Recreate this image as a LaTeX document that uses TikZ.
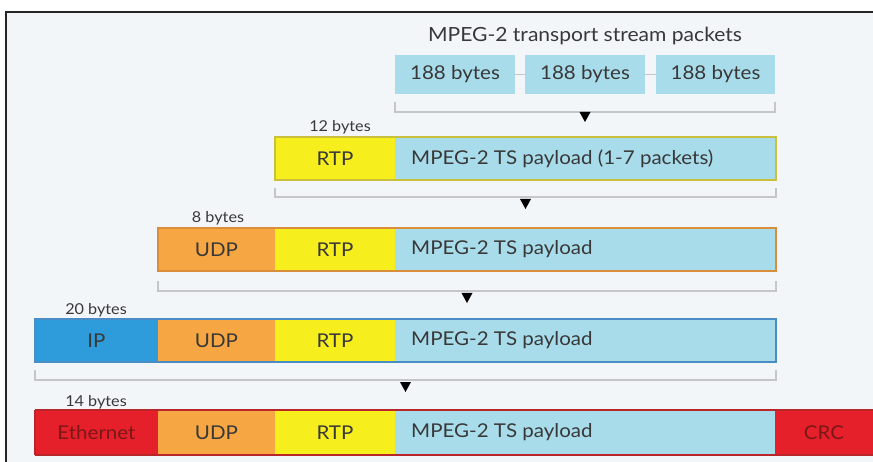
\documentclass[tikz,border=0pt]{standalone}
\usepackage{fontspec}
\setmainfont{Lato}[FakeStretch=1.08]
\usetikzlibrary{calc}
\definecolor{bg}{HTML}{F3F6F9}
\definecolor{pay}{HTML}{A9DCEB}
\definecolor{ylw}{HTML}{F7EE1E}
\definecolor{org}{HTML}{F6A642}
\definecolor{ipb}{HTML}{2E9CDA}
\definecolor{ethr}{HTML}{E5202A}
\definecolor{txt}{HTML}{383838}
\definecolor{dred}{HTML}{7A1818}
\definecolor{brk}{HTML}{C4C6C8}
\definecolor{olv}{HTML}{C9C03C}
\definecolor{obrd}{HTML}{D98E3A}
\definecolor{bbrd}{HTML}{4A8DC4}
\definecolor{rbrd}{HTML}{B8262A}
\begin{document}
\begin{tikzpicture}[x=1pt,y=-1pt,
  seg/.style={rectangle, anchor=north west, inner sep=0pt, outer sep=0pt,
    minimum height=43pt, text=txt, font=\fontsize{19}{19}\selectfont},
  pkt/.style={seg, fill=pay, minimum height=39pt},
  ptext/.style={anchor=west, inner sep=0pt, text=txt, font=\fontsize{19}{19}\selectfont},
  bytes/.style={inner sep=0pt, text=txt, font=\fontsize{15}{15}\selectfont},
  brkline/.style={draw=brk, line width=1.5pt},
  tri/.style={fill=black}
]
\useasboundingbox (0,0) rectangle (873,462);
\fill[white] (0,0) rectangle (873,462);
\fill[bg] (6,12) rectangle (873,462);
\draw[black!85, line width=1.5pt] (873,12) -- (6,12) -- (6,462);

% title and packets
\node[inner sep=0pt, anchor=base, text=txt, font=\fontsize{19.5}{19.5}\selectfont] (title) at (585,42) {MPEG-2 transport stream packets};
\node[pkt, minimum width=120pt] (b1) at (395,55) {188 bytes};
\node[pkt, minimum width=120pt] (b2) at (525,55) {188 bytes};
\node[pkt, minimum width=119pt] (b3) at (656,55) {188 bytes};
\draw[brk, line width=1pt] (b1.east) -- (b2.west);
\draw[brk, line width=1pt] (b2.east) -- (b3.west);
\draw[brkline] ($(b1.south west)+(0,8)$) -- ($(b1.south west)+(0,18)$) -- ($(b3.south east)+(0,18)$) -- ($(b3.south east)+(0,8)$);
\coordinate (t0) at ($(b1.south west)!0.5!(b3.south east)+(0,18)$);
\fill[tri] (t0) +(-5.5,0) -- +(5.5,0) -- +(0,10) -- cycle;

% row 1
\node[bytes] (l1) at (340,127) {12 bytes};
\node[seg, fill=ylw, minimum width=120pt] (r1rtp) at (275,137) {RTP};
\node[seg, fill=pay, minimum width=381pt] (r1pay) at (395,137) {};
\node[ptext] (r1txt) at ($(r1pay.west)+(16,0)$) {MPEG-2 TS payload (1-7 packets)};
\draw[olv, line width=2pt] (r1rtp.north west) rectangle (r1pay.south east);
\draw[brkline] ($(r1rtp.south west)+(0,8)$) -- ($(r1rtp.south west)+(0,17)$) -- ($(r1pay.south east)+(0,17)$) -- ($(r1pay.south east)+(0,8)$);
\coordinate (t1) at ($(r1rtp.south west)!0.5!(r1pay.south east)+(0,19)$);
\fill[tri] (t1) +(-5.5,0) -- +(5.5,0) -- +(0,10) -- cycle;

% row 2
\node[bytes] (l2) at (218,218) {8 bytes};
\node[seg, fill=org, minimum width=117pt] (r2udp) at (158,228) {UDP};
\node[seg, fill=ylw, minimum width=120pt] (r2rtp) at (275,228) {RTP};
\node[seg, fill=pay, minimum width=381pt] (r2pay) at (395,228) {};
\node[ptext] (r2txt) at ($(r2pay.west)+(16,0)$) {MPEG-2 TS payload};
\draw[obrd, line width=2pt] (r2udp.north west) rectangle (r2pay.south east);
\draw[brkline] ($(r2udp.south west)+(0,10)$) -- ($(r2udp.south west)+(0,20)$) -- ($(r2pay.south east)+(0,20)$) -- ($(r2pay.south east)+(0,10)$);
\coordinate (t2) at ($(r2udp.south west)!0.5!(r2pay.south east)+(0,22)$);
\fill[tri] (t2) +(-5.5,0) -- +(5.5,0) -- +(0,10) -- cycle;

% row 3
\node[bytes] (l3) at (96,310) {20 bytes};
\node[seg, fill=ipb, minimum width=123pt] (r3ip) at (35,319) {IP};
\node[seg, fill=org, minimum width=117pt] (r3udp) at (158,319) {UDP};
\node[seg, fill=ylw, minimum width=120pt] (r3rtp) at (275,319) {RTP};
\node[seg, fill=pay, minimum width=381pt] (r3pay) at (395,319) {};
\node[ptext] (r3txt) at ($(r3pay.west)+(16,0)$) {MPEG-2 TS payload};
\draw[bbrd, line width=2pt] (r3ip.north west) rectangle (r3pay.south east);
\draw[brkline] ($(r3ip.south west)+(0,8)$) -- ($(r3ip.south west)+(0,18)$) -- ($(r3pay.south east)+(0,18)$) -- ($(r3pay.south east)+(0,8)$);
\coordinate (t3) at ($(r3ip.south west)!0.5!(r3pay.south east)+(0,20)$);
\fill[tri] (t3) +(-5.5,0) -- +(5.5,0) -- +(0,10) -- cycle;

% row 4
\node[bytes] (l4) at (96,402) {14 bytes};
\node[seg, fill=ethr, minimum width=123pt, minimum height=45pt, text=dred] (r4eth) at (35,410) {Ethernet};
\node[seg, fill=org, minimum width=117pt, minimum height=45pt] (r4udp) at (158,410) {UDP};
\node[seg, fill=ylw, minimum width=120pt, minimum height=45pt] (r4rtp) at (275,410) {RTP};
\node[seg, fill=pay, minimum width=380pt, minimum height=45pt] (r4pay) at (395,410) {};
\node[seg, fill=ethr, minimum width=98pt, minimum height=45pt, text=dred] (r4crc) at (775,410) {CRC};
\node[ptext] (r4txt) at ($(r4pay.west)+(16,0)$) {MPEG-2 TS payload};
\draw[rbrd, line width=1.5pt] (r4eth.north west) -- (r4crc.north east);
\draw[rbrd, line width=1.5pt] (r4eth.south west) -- (r4crc.south east);
\draw[rbrd, line width=1.5pt] (r4eth.north west) -- (r4eth.south west);
\end{tikzpicture}
\end{document}
